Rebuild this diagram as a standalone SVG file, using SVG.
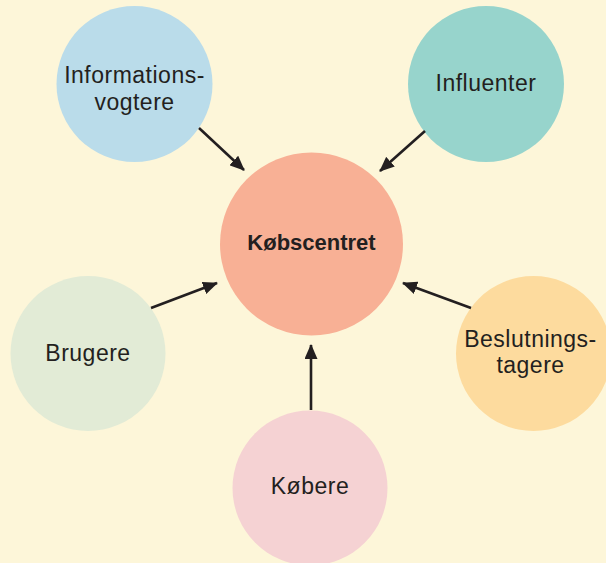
<svg xmlns="http://www.w3.org/2000/svg" width="606" height="563" viewBox="0 0 606 563">
<style>
.lbl{font-family:"Liberation Sans",Arial,sans-serif;font-size:23px;letter-spacing:0.5px;fill:#231f20;text-anchor:middle}
.bold{font-weight:bold;font-size:22px;letter-spacing:0}
.con{stroke:#231f20;stroke-width:2.6;fill:none;marker-end:url(#ah)}
</style>
<defs>
<marker id="ah" markerUnits="userSpaceOnUse" markerWidth="15" markerHeight="13" refX="14" refY="6.5" orient="auto">
<path d="M0,0 L15,6.5 L0,13 z" fill="#231f20"/>
</marker>
</defs>
<rect width="606" height="563" fill="#fdf6d9"/>
<g id="informationsvogtere">
<circle cx="134.5" cy="84" r="78" fill="#badcea"/>
<text class="lbl" x="134.5" y="83">Informations-</text>
<text class="lbl" x="134.5" y="110">vogtere</text>
</g>
<g id="influenter">
<circle cx="486" cy="84" r="78" fill="#97d4cc"/>
<text class="lbl" x="486" y="91">Influenter</text>
</g>
<g id="kobscentret">
<circle cx="311.5" cy="244" r="91.5" fill="#f8b095"/>
<text class="lbl bold" x="311.5" y="250">Købscentret</text>
</g>
<g id="brugere">
<circle cx="88" cy="353.5" r="77.5" fill="#e2ebd6"/>
<text class="lbl" x="88" y="361">Brugere</text>
</g>
<g id="beslutningstagere">
<circle cx="533.5" cy="353.5" r="77.5" fill="#fddb9e"/>
<text class="lbl" x="530.5" y="347">Beslutnings-</text>
<text class="lbl" x="530.5" y="373">tagere</text>
</g>
<g id="kobere">
<circle cx="310" cy="488" r="77.5" fill="#f5d2d3"/>
<text class="lbl" x="310" y="494">Købere</text>
</g>
<g id="connectors">
<line class="con" x1="199" y1="128" x2="244" y2="170"/>
<line class="con" x1="425" y1="131" x2="380" y2="171"/>
<line class="con" x1="151" y1="308" x2="217" y2="283"/>
<line class="con" x1="471" y1="308" x2="403" y2="283"/>
<line class="con" x1="311" y1="410" x2="311" y2="345"/>
</g>
</svg>
